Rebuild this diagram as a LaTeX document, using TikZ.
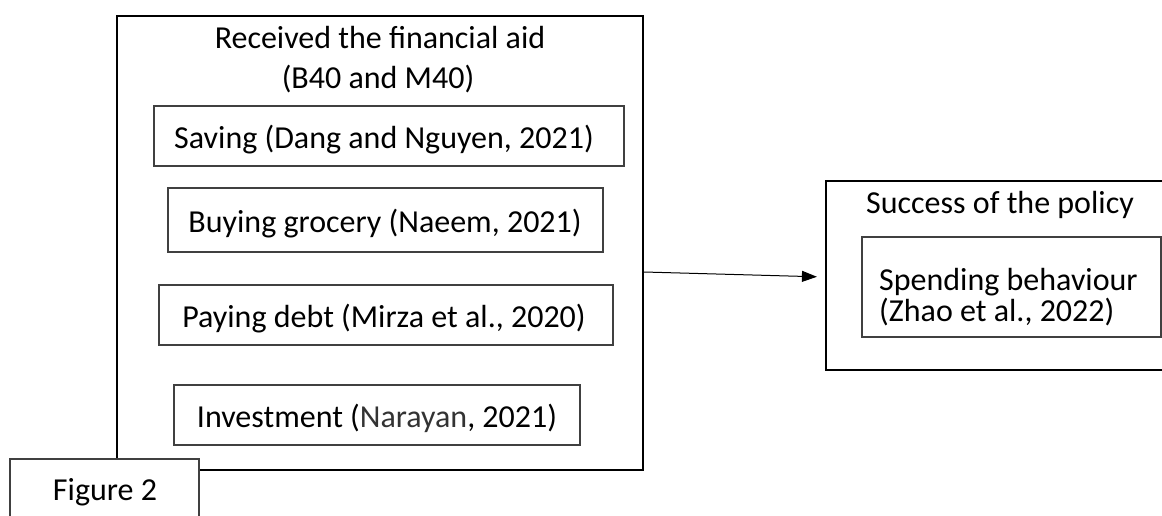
\documentclass[tikz,border=0pt]{standalone}
\usepackage{fontspec}
\setmainfont{Carlito}
\usetikzlibrary{arrows.meta}
\tikzset{
  bigbox/.style={draw=black, line width=2.2pt, inner sep=0pt},
  smallbox/.style={draw=black!75, line width=1.1pt, inner sep=0pt, font=\fontsize{32}{38}\selectfont},
  lbl/.style={inner sep=0pt, font=\fontsize{32}{38}\selectfont},
  conn/.style={line width=1pt, -{Triangle[length=15pt,width=11pt]}}
}
\begin{document}
\begin{tikzpicture}[x=1pt,y=-1pt]
\useasboundingbox (0,0) rectangle (1162,515);
\clip (0,0) rectangle (1162,515);
% left group
\node[bigbox, minimum width=526pt, minimum height=454pt] (outer) at (380,243) {};
\node[lbl, anchor=base] (title1) at (380,48) {Received the financial aid};
\node[lbl, anchor=base] (title2) at (378,88) {(B40 and M40)};
\node[smallbox, minimum width=470pt, minimum height=60pt] (saving) at (389,136) {};
\node[lbl, anchor=base] (savingtxt) at (384,148) {Saving (Dang and Nguyen, 2021)};
\node[smallbox, minimum width=435pt, minimum height=64pt] (buying) at (385.5,220) {};
\node[lbl, anchor=base] (buyingtxt) at (385,232) {Buying grocery (Naeem, 2021)};
\node[smallbox, minimum width=454pt, minimum height=60pt] (paying) at (386,315) {};
\node[lbl, anchor=base] (payingtxt) at (384,327) {Paying debt (Mirza et al., 2020)};
\node[smallbox, minimum width=406pt, minimum height=60pt] (invest) at (377,415) {};
\node[lbl, anchor=base] (investtxt) at (377,427) {Investment (\textcolor{black!80}{Narayan}, 2021)};
% figure label
\node[smallbox, fill=white, minimum width=189pt, minimum height=71pt] (fig) at (104.5,494.5) {};
\node[lbl, anchor=base] (figtext) at (105,500) {Figure 2};
% right group
\node[bigbox, minimum width=349pt, minimum height=189pt] (right) at (1000.5,275.5) {};
\node[lbl, anchor=base] (rtitle) at (1000,213) {Success of the policy};
\node[smallbox, minimum width=299pt, minimum height=100pt] (inner) at (1011.5,287) {};
\node[lbl, anchor=base west, align=left] (spend1) at (879,290) {Spending behaviour};
\node[lbl, anchor=base west, align=left] (spend2) at (879,321) {(Zhao et al., 2022)};
% connector
\draw[conn, shorten >=8pt] ([yshift=-29pt]outer.east) -- ([yshift=-1.5pt]right.west);
\end{tikzpicture}
\end{document}
